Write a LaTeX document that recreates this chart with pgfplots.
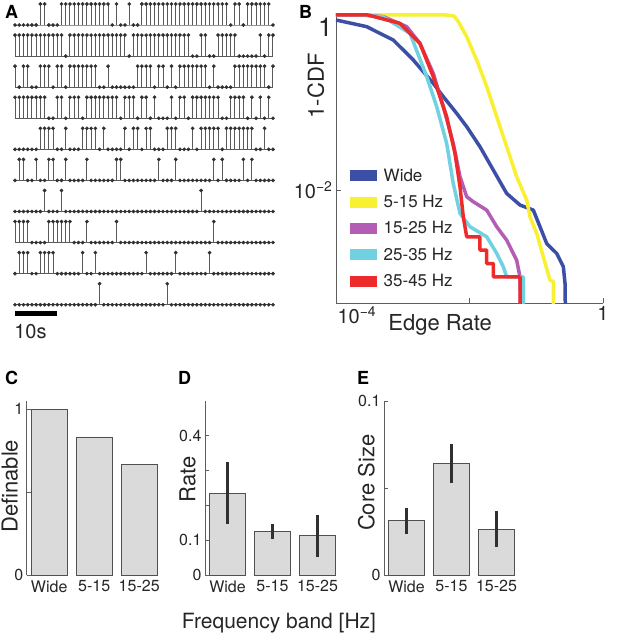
\documentclass[border=0pt]{standalone}
\usepackage{pgfplots}
\pgfplotsset{compat=1.18}
\usepackage{pgfplotstable}
\usepackage{fontspec}
\setmainfont{TeX Gyre Heros}
\definecolor{stemgray}{HTML}{5A5A5A}
\definecolor{dotgray}{HTML}{303030}
\definecolor{axisgray}{HTML}{5E5E5E}
\definecolor{textgray}{HTML}{262626}
\definecolor{bargray}{HTML}{DADADA}
\definecolor{bardraw}{HTML}{505050}
\definecolor{errcol}{HTML}{303030}
\definecolor{cwide}{HTML}{3B4FA6}
\definecolor{cyel}{HTML}{F8F030}
\definecolor{cmag}{HTML}{B45DB4}
\definecolor{ccya}{HTML}{70D2E0}
\definecolor{cred}{HTML}{EE2B2B}

\pgfplotstableread{
x r1 r2 r3 r4 r5 r6 r7 r8 r9 r10
0 0 1 1 1 0 0 0 1 0 0
1 0 1 0 1 0 1 0 1 1 0
2 0 1 1 1 0 1 0 1 1 0
3 0 1 1 1 0 0 0 1 1 0
4 0 1 0 1 0 0 0 0 0 0
5 0 1 0 1 0 1 0 0 0 0
6 1 1 1 1 1 0 0 0 1 0
7 1 1 1 1 1 0 1 0 1 0
8 0 1 1 0 1 1 0 1 1 0
9 0 1 0 0 1 1 0 1 1 0
10 0 1 1 1 0 0 0 1 0 0
11 1 1 1 1 0 0 1 1 0 0
12 1 0 0 0 1 1 0 1 0 0
13 1 1 1 1 0 0 0 1 0 0
14 1 1 1 1 0 0 0 0 0 0
15 1 1 1 1 0 0 0 0 0 0
16 1 1 1 0 1 0 0 0 1 0
17 1 1 1 1 1 1 0 1 0 0
18 1 1 1 1 1 0 0 0 0 0
19 1 1 1 1 1 0 0 0 1 0
20 1 1 0 1 0 0 0 0 0 1
21 1 1 0 1 1 0 0 0 0 0
22 1 1 1 1 0 0 0 0 0 0
23 0 1 0 1 0 0 0 0 0 0
24 1 1 0 1 0 1 0 1 0 0
25 0 1 0 0 0 1 0 0 0 0
26 0 1 0 1 1 0 0 0 0 0
27 1 0 0 1 0 0 0 0 0 0
28 0 1 0 1 1 0 0 0 0 0
29 0 1 1 0 1 0 0 0 0 0
30 1 1 1 1 0 0 0 0 0 0
31 1 1 1 1 1 0 0 0 1 0
32 1 1 1 0 1 0 0 0 0 0
33 1 1 0 1 0 0 0 0 0 0
34 1 1 1 0 0 1 0 0 0 0
35 1 1 1 0 0 0 0 0 0 0
36 1 1 0 0 1 0 0 0 0 1
37 1 1 1 1 1 0 0 0 0 0
38 1 1 0 0 1 1 0 0 1 0
39 1 1 1 1 0 0 0 0 0 0
40 1 1 1 1 0 0 0 0 0 0
41 1 1 1 0 0 0 0 0 0 0
42 1 0 1 1 1 0 0 0 0 0
43 1 0 1 1 0 0 0 0 0 0
44 1 1 1 1 1 0 1 0 0 0
45 1 1 1 1 1 0 0 0 0 0
46 1 0 0 1 1 0 0 0 1 0
47 1 0 1 1 1 1 0 1 0 0
48 1 1 0 1 1 0 0 0 0 0
49 1 1 0 0 0 1 0 0 0 0
50 1 1 0 0 1 0 0 0 0 0
51 0 1 0 1 1 0 0 0 0 0
52 1 1 1 1 1 0 0 0 0 0
53 1 0 1 1 1 0 0 0 0 0
54 0 0 1 1 1 1 0 0 0 0
55 1 0 1 0 1 0 0 0 0 0
56 1 0 1 1 1 1 0 0 0 0
57 1 0 1 0 0 0 0 0 0 0
58 1 1 1 1 0 0 0 0 0 0
59 1 0 1 0 1 0 0 0 0 0
60 1 1 0 1 0 0 0 0 0 0
61 0 1 1 0 0 0 0 0 0 0
}\rasterdata

\newcommand{\fs}[1]{\fontsize{#1}{#1}\selectfont}

\begin{document}
\begin{tikzpicture}[every node/.style={text=textgray}]
\path[use as bounding box] (0,0) rectangle (617pt,-640pt);

% ---------- Panel A ----------
\begin{axis}[
  anchor=north west, at={(15pt,-4pt)},
  x=4.2295pt, y=21pt,
  xmin=0, xmax=61, ymin=-14.5, ymax=1,
  hide axis, clip=false,
]
\pgfplotsinvokeforeach{1,...,10}{
  \addplot[draw=stemgray, line width=0.7pt, forget plot]
    table[x=x, y expr={-1.48*(#1-1)}] {\rasterdata};
  \addplot[only marks, mark=*, mark size=1.65pt,
    mark options={fill=dotgray, draw=dotgray},
    error bars/.cd, y dir=minus, y explicit,
    error bar style={stemgray, line width=1pt}, error mark=none]
    table[x=x, y expr={\thisrow{r#1}-1.48*(#1-1)}, y error expr={\thisrow{r#1}}] {\rasterdata};
}
\addplot[black, line width=4.5pt] coordinates {(0,-13.73) (10,-13.73)};
\node[anchor=west, font=\fs{20}, inner sep=0pt] at (axis cs:-0.2,-14.6) {10s};
\end{axis}

% ---------- Panel B ----------
\begin{axis}[
  at={(336pt,-303pt)}, anchor=south west, scale only axis,
  width=267pt, height=289.5pt,
  xmode=log, ymode=log,
  xmin=1e-4, xmax=1, ymin=5.13e-4, ymax=1.04,
  axis lines*=left, axis line style={axisgray, line width=0.8pt, -},
  tick align=inside, major tick length=5pt,
  tick style={axisgray, line width=0.8pt},
  minor xtick={}, minor ytick={},
  xtick={1e-2,1}, xticklabels={,1},
  extra x ticks={1e-4}, extra x tick labels={10\textsuperscript{−4}},
  extra x tick style={xticklabel style={anchor=north west, xshift=-2pt}},
  ytick={1e-2}, yticklabels={10\textsuperscript{−2}},
  extra y ticks={1}, extra y tick labels={1},
  extra y tick style={yticklabel style={anchor=north east, font=\fs{26}}},
  tick label style={font=\fs{20}},
  /pgf/number format/assume math mode=true,
  xlabel={Edge Rate}, ylabel={1-CDF},
  label style={font=\fs{22}},
  xlabel style={at={(axis description cs:0.39,-0.075)}, anchor=center},
  ylabel style={at={(axis description cs:-0.075,0.75)}, anchor=center},
  legend cell align=left,
  legend style={at={(axis description cs:0.03,0.045)}, anchor=south west,
    draw=none, fill=none, font=\fs{17}, row sep=9.5pt, inner sep=0pt,
    nodes={inner sep=1.5pt}},
  legend image code/.code={\draw[line width=11pt] (0pt,0pt) -- (27pt,0pt);},
  every axis plot/.append style={line width=3.5pt, line join=round},
]
\addplot[cwide] coordinates {(1e-4,0.877) (2.88e-4,0.736) (7.21e-4,0.518) (1.44e-3,0.306) (2.87e-3,0.1656) (4.05e-3,0.1167) (6.43e-3,0.0752) (9.08e-3,0.053) (0.01435,0.0313) (0.02275,0.01694) (0.03606,0.00916) (0.0571,0.00675) (0.0904,0.0059) (0.1138,0.00381) (0.1435,0.00245) (0.2023,0.00189) (0.2547,0.00133) (0.2698,0.000857) (0.28,0.0001)};
\addlegendentry{Wide}
\addplot[cyel] coordinates {(1e-4,1) (4.5e-3,1) (5.9e-3,0.97) (6.8e-3,0.84) (9.08e-3,0.565) (0.01282,0.306) (0.01811,0.152) (0.02559,0.0689) (0.03606,0.0313) (0.0509,0.0142) (0.0719,0.00769) (0.0805,0.00495) (0.1016,0.0032) (0.1276,0.00173) (0.1607,0.000935) (0.1803,0.0009) (0.1803,0.0001)};
\addlegendentry{5-15 Hz}
\addplot[cmag] coordinates {(1e-4,1) (2.5e-4,1) (5.11e-4,0.957) (1.145e-3,0.736) (1.81e-3,0.474) (2.87e-3,0.215) (4.05e-3,0.0895) (5.71e-3,0.0341) (7.21e-3,0.0142) (9.08e-3,0.0084) (0.0114,0.00736) (0.01811,0.0059) (0.02559,0.00381) (0.03606,0.00268) (0.0509,0.00158) (0.0571,0.00102) (0.0605,0.0001)};
\addlegendentry{15-25 Hz}
\addplot[ccya] coordinates {(1e-4,1) (2.5e-4,1) (5.11e-4,0.95) (1.285e-3,0.617) (2.29e-3,0.197) (3.23e-3,0.0895) (4.55e-3,0.0341) (5.71e-3,0.0119) (7.21e-3,0.0054) (0.01017,0.00381) (0.01811,0.00293) (0.02559,0.00189) (0.0321,0.00133) (0.03606,0.00102) (0.064,0.00102) (0.064,0.0001)};
\addlegendentry{25-35 Hz}
\addplot[cred] coordinates {(1e-4,1) (3e-4,1) (9.1e-4,0.803) (1.81e-3,0.474) (2.87e-3,0.197) (4.55e-3,0.0689) (6.07e-3,0.0262) (7.21e-3,0.0109) (8.07e-3,0.00495) (9.08e-3,0.00293) (0.01435,0.00293) (0.01435,0.00206) (0.0181,0.00206) (0.0181,0.00145) (0.0228,0.00145) (0.0228,0.00102) (0.0571,0.00102) (0.0571,0.0001)};
\addlegendentry{35-45 Hz}
\end{axis}

% ---------- common style for C, D, E ----------
\pgfplotsset{barpanel/.style={
  anchor=south west, scale only axis, width=135pt, height=174pt,
  xmin=0.5, xmax=3.5, ymin=0,
  axis lines*=left, axis line style={-},
  x axis line style={draw=none}, y axis line style={axisgray, line width=0.8pt},
  xtick={1,2,3}, xticklabels={Wide,5-15,15-25},
  xtick style={draw=none},
  ytick style={axisgray, line width=0.8pt},
  tick align=inside, major tick length=4pt,
  tick label style={font=\fs{16}},
  xticklabel style={yshift=-2pt},
  /pgf/number format/assume math mode=true,
  label style={font=\fs{22}},
}, 
barplot/.style={ybar, bar width=0.8, fill=bargray, draw=bardraw, line width=0.8pt,
  error bars/.cd, y dir=both, y explicit,
  error bar style={errcol, line width=2.4pt},
  error mark options={errcol, line width=2.4pt, mark size=1.3pt, rotate=90}},
}

% ---------- Panel C ----------
\begin{axis}[barpanel, at={(26.7pt,-575pt)}, ymax=1.05,
  ytick={0,0.5,1}, yticklabels={0,,1},
  ylabel={Definable},
  ylabel style={at={(axis description cs:-0.125,0.51)}, anchor=center}]
\addplot[ybar, bar width=0.8, fill=bargray, draw=bardraw, line width=0.8pt]
  coordinates {(1,1) (2,0.8333) (3,0.6667)};
\end{axis}

% ---------- Panel D ----------
\begin{axis}[barpanel, at={(205pt,-575pt)}, ymax=0.5,
  ytick={0,0.1,0.2,0.3,0.4}, yticklabels={0,0.1,,,0.4},
  ylabel={Rate},
  ylabel style={at={(axis description cs:-0.13,0.55)}, anchor=center}]
\addplot[barplot]
  coordinates {(1,0.235) +- (0,0.086) (2,0.125) +- (0,0.019) (3,0.1125) +- (0,0.0575)};
\end{axis}

% ---------- Panel E ----------
\begin{axis}[barpanel, at={(384pt,-575pt)}, ymax=0.1,
  ytick={0,0.05,0.1}, yticklabels={0,,0.1},
  ylabel={Core Size},
  ylabel style={at={(axis description cs:-0.13,0.53)}, anchor=center}]
\addplot[barplot]
  coordinates {(1,0.0311) +- (0,0.0068) (2,0.064) +- (0,0.0106) (3,0.0263) +- (0,0.0097)};
\end{axis}

\node[font=\fs{21}] at (279pt,-623pt) {Frequency band [Hz]};

% ---------- Panel letters ----------
\node[anchor=north west, inner sep=0pt, font=\bfseries\fs{18}, text=black] at (5pt,-5pt) {A};
\node[anchor=north west, inner sep=0pt, font=\bfseries\fs{18}, text=black] at (299pt,-5pt) {B};
\node[anchor=north west, inner sep=0pt, font=\bfseries\fs{18}, text=black] at (5pt,-371pt) {C};
\node[anchor=north west, inner sep=0pt, font=\bfseries\fs{18}, text=black] at (178pt,-371pt) {D};
\node[anchor=north west, inner sep=0pt, font=\bfseries\fs{18}, text=black] at (357pt,-371pt) {E};
\end{tikzpicture}
\end{document}
